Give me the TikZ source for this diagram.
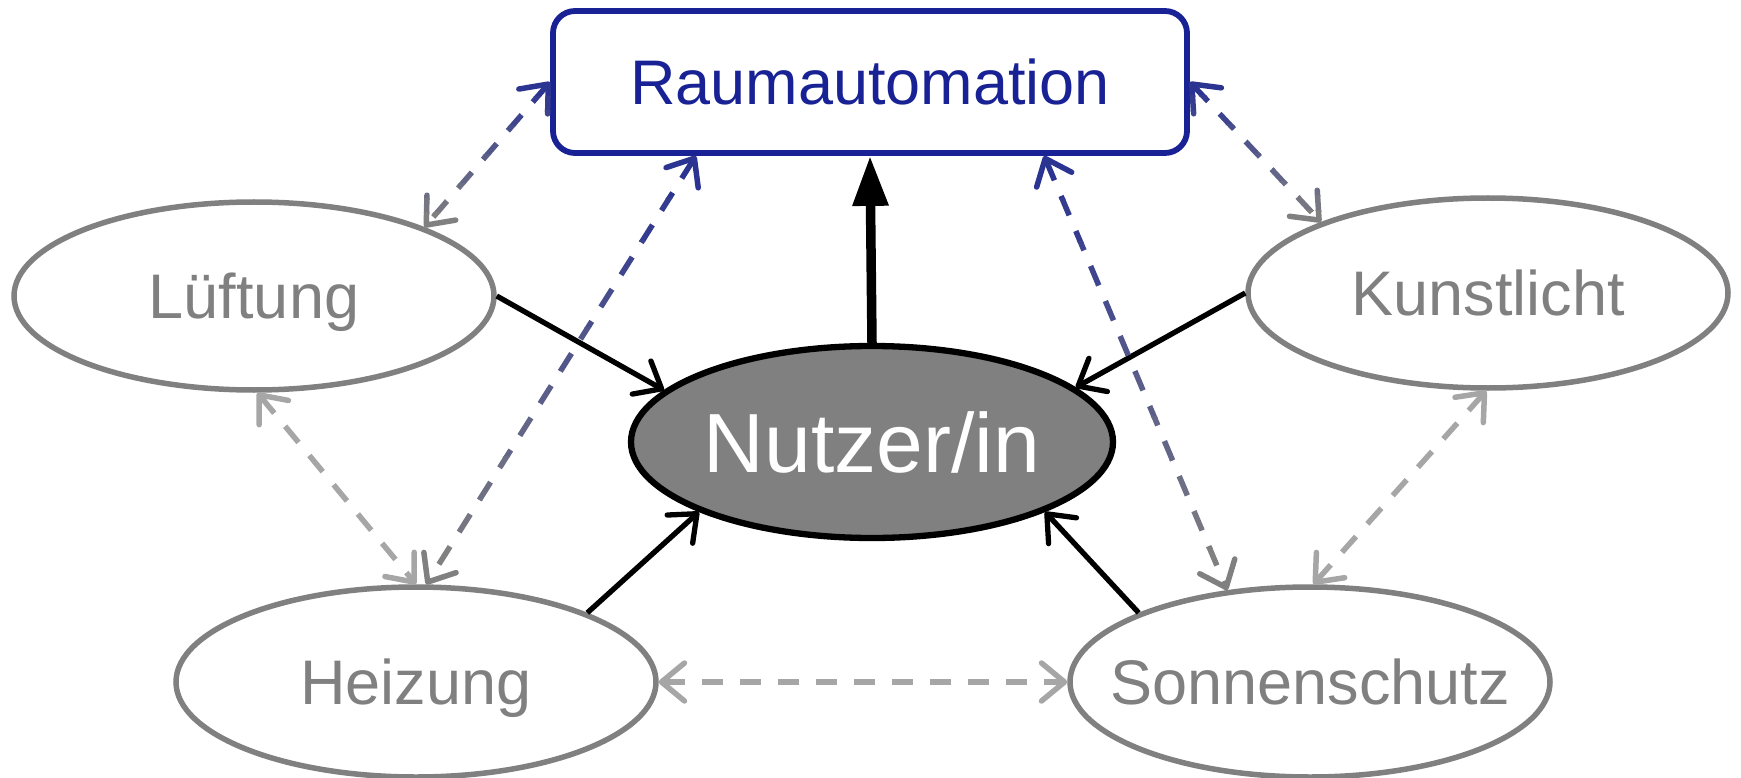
\documentclass[tikz,border=0pt]{standalone}
\usepackage{fontspec}
\setmainfont{Liberation Sans}
\usetikzlibrary{shapes.geometric,arrows.meta}
\definecolor{rablue}{RGB}{24,34,148}
\definecolor{dblue}{RGB}{44,52,146}
\definecolor{elgray}{RGB}{128,128,128}
\definecolor{ltgray}{RGB}{166,166,166}
\tikzset{
  lbl/.style={font=\fontsize{63}{70}\selectfont, text height=45pt, text depth=0pt, inner sep=0pt},
  ell/.style={ellipse, draw=elgray, fill=white, line width=5.5pt,
    minimum width=480pt, minimum height=190pt, inner sep=0pt},
  elltext/.style={lbl, text=elgray},
  nutzerell/.style={ellipse, draw=black, fill=elgray, line width=6.3pt,
    minimum width=482pt, minimum height=192pt, inner sep=0pt},
  nutzertext/.style={font=\fontsize{84}{90}\selectfont, text height=60pt, text depth=0pt,
    inner sep=0pt, text=white},
  raumbox/.style={rectangle, rounded corners=22pt, draw=rablue, fill=white,
    line width=5.8pt, text=rablue, minimum width=634pt, minimum height=142pt, lbl},
  barbtip/.tip={Straight Barb[length=23pt,width=38pt,round]},
  solidarr/.style={draw=black, line width=5.3pt, -barbtip},
  thickarr/.style={draw=black, line width=9.5pt, -{Triangle[length=50pt,width=34pt]}},
  gdash/.style={line width=5.5pt, dash pattern=on 21pt off 17pt, barbtip-barbtip},
  ltdash/.style={draw=ltgray, line width=5.5pt, dash pattern=on 21pt off 17pt, barbtip-barbtip}
}
\newcommand\gradarrow[4]{%
  \foreach \k in {0,...,9}{%
    \pgfmathtruncatemacro\pct{\k*100/9}%
    \pgfmathsetmacro\ya{ifthenelse(\k==0,-20,#3+(#4-#3)*\k/10-0.4)}%
    \pgfmathsetmacro\yb{ifthenelse(\k==9,800,#3+(#4-#3)*(\k+1)/10+0.4)}%
    \begin{scope}
      \clip (-10,\ya) rectangle (1760,\yb);
      \colorlet{gradc}{elgray!\pct!dblue}%
      \draw[gdash, draw=gradc] (#1) -- (#2);
    \end{scope}
  }%
}
\begin{document}
\begin{tikzpicture}[x=1pt,y=-1pt]
\useasboundingbox (0,0) rectangle (1741,778);
\node[raumbox] (raum) at (870,82) {Raumautomation};
\node[ell, minimum height=188pt, label={[elltext]center:Lüftung}] (luft) at (254,296) {};
\node[ell, label={[elltext]center:Kunstlicht}] (kunst) at (1488,293) {};
\node[nutzerell, label={[nutzertext]center:Nutzer/in}] (nutzer) at (872,442) {};
\node[ell, label={[elltext]center:Heizung}] (heiz) at (416,682) {};
\node[ell, label={[elltext]center:Sonnenschutz}] (sonne) at (1310,682) {};

\draw[solidarr] (luft.east) -- (nutzer.166);
\draw[solidarr] (kunst.west) -- (nutzer.15);
\draw[solidarr] (heiz.22) -- (nutzer.202);
\draw[solidarr] (sonne.158) -- (nutzer.338);
\draw[thickarr] (nutzer.north) -- (raum.south);

\gradarrow{raum.west}{luft.22}{82}{228}
\gradarrow{raum.203}{heiz.84}{155}{586}
\gradarrow{raum.east}{kunst.157}{82}{225}
\gradarrow{raum.337}{sonne.132}{155}{592}

\draw[ltdash] (luft.-88) -- (heiz.90);
\draw[ltdash] (kunst.-91) -- (sonne.88);
\draw[ltdash] (heiz.east) -- (sonne.west);
\end{tikzpicture}
\end{document}
